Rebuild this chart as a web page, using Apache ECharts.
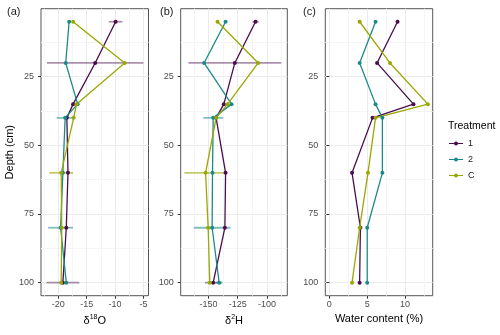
<!DOCTYPE html>
<html>
<head>
<meta charset="utf-8">
<script src="https://cdn.jsdelivr.net/npm/echarts@6/dist/echarts.min.js"></script>
<style>html,body{margin:0;padding:0;background:#fff}#c{width:500px;height:335px}</style>
</head>
<body>
<div id="c"></div>
<script>
// ---- data ----
const depth = [5, 20, 35, 40, 60, 80, 100];
const treatments = ['1', '2', 'C'];
// delta 18O
const o18_t1 = [-9.9, -13.5, -17.4, -18.5, -18.3, -18.6, -19.2];
const o18_t2 = [-18.1, -18.7, -16.6, -18.8, -19.2, -19.6, -18.6];
const o18_tC = [-17.4, -8.3, -16.8, -17.3, -19.5, -19.4, -19.5];
const o18_sd_t1 = [1.2, 8.5, null, null, null, null, 2.9];
const o18_sd_t2 = [null, null, null, 1.5, null, 2.2, null];
const o18_sd_tC = [null, null, null, null, 2.1, null, null];
// delta 2H
const h2_t1 = [-109.8, -127.5, -136.9, -143.5, -135.4, -136.0, -146.0];
const h2_t2 = [-135.4, -153.8, -130.3, -146.0, -146.6, -146.9, -140.9];
const h2_tC = [-142.3, -107.5, -133.7, -143.5, -152.5, -150.3, -148.9];
const h2_sd_t1 = [2.6, 39.7, null, null, null, null, 7];
const h2_sd_t2 = [null, null, null, 8.5, null, 15.7, 3];
const h2_sd_tC = [null, null, null, null, 18.2, null, null];
// water content (%)
const w_t1 = [9.0, 6.3, 11.1, 5.7, 3.0, 4.1, 4.0];
const w_t2 = [6.1, 4.0, 6.1, 7.0, 7.0, 5.0, 5.0];
const w_tC = [4.0, 8.0, 13.0, 6.1, 5.1, 4.0, 3.0];
// ticks
const depthTicks = [25, 50, 75, 100];
const depthMinor = [12.5, 37.5, 62.5, 87.5];
const o18Ticks = [-20, -15, -10, -5];
const o18Minor = [-22.5, -17.5, -12.5, -7.5];
const h2Ticks = [-150, -125, -100];
const h2Minor = [-162.5, -137.5, -112.5, -87.5];
const wTicks = [0, 5, 10];
const wMinor = [2.5, 7.5, 12.5];

// ---- styling ----
const colors = ['#4a0c4e', '#1c8a8a', '#99a800'];
const errColors = ['rgba(74,12,78,0.45)', 'rgba(28,138,138,0.55)', 'rgba(153,168,0,0.6)'];
const FONT = 'Liberation Sans, Arial, sans-serif';
const legendIcon = 'path://M0,4.4 L14,4.4 L14,5.6 L0,5.6 Z M9,5 A2,2 0 1,1 5,5 A2,2 0 1,1 9,5 Z';

const panels = [
  {left: 41, width: 107.5, min: -23.06, max: -4.1, ticks: o18Ticks, minor: o18Minor,
   vals: [o18_t1, o18_t2, o18_tC], sd: [o18_sd_t1, o18_sd_t2, o18_sd_tC],
   name: '{n|δ}{s|18}{n|O}'},
  {left: 180.7, width: 106.6, min: -173.8, max: -82.6, ticks: h2Ticks, minor: h2Minor,
   vals: [h2_t1, h2_t2, h2_tC], sd: [h2_sd_t1, h2_sd_t2, h2_sd_tC],
   name: '{n|δ}{s|2}{n|H}'},
  {left: 325.3, width: 107.4, min: -0.53, max: 13.64, ticks: wTicks, minor: wMinor,
   vals: [w_t1, w_t2, w_tC], sd: [null, null, null],
   name: '{n|Water content (%)}'}
];

const grids = [], xAxes = [], yAxes = [], series = [];
panels.forEach((p, i) => {
  grids.push({left: p.left, top: 8.7, width: p.width, height: 287, show: true,
    borderColor: '#555', borderWidth: 1, backgroundColor: '#fff', outerBoundsMode: 'none', containLabel: false});
  // major x
  xAxes.push({gridIndex: i, type: 'value', min: p.min, max: p.max, position: 'bottom',
    axisLine: {show: false},
    axisTick: {show: true, length: 3, lineStyle: {color: '#333'}, customValues: p.ticks},
    axisLabel: {customValues: p.ticks, color: '#4d4d4d', fontSize: 9, margin: 4, fontFamily: FONT},
    splitLine: {show: true, lineStyle: {color: '#ebebeb', width: 1}},
    name: p.name, nameLocation: 'middle', nameGap: 14,
    nameTextStyle: {rich: {
      n: {fontSize: 11, color: '#000', fontFamily: FONT},
      s: {fontSize: 7, color: '#000', fontFamily: FONT, padding: [0, 0, 7, 0]}
    }}
  });
  // minor x
  xAxes.push({gridIndex: i, type: 'value', min: p.min, max: p.max, position: 'bottom',
    axisLine: {show: false}, axisLabel: {show: false},
    axisTick: {show: false, customValues: p.minor},
    splitLine: {show: true, lineStyle: {color: '#f5f5f5', width: 1}}
  });
  // major y
  yAxes.push({gridIndex: i, type: 'value', inverse: true, min: 0.25, max: 104.75, position: 'left',
    axisLine: {show: false},
    axisTick: {show: true, length: 3, lineStyle: {color: '#333'}, customValues: depthTicks},
    axisLabel: {customValues: depthTicks, color: '#4d4d4d', fontSize: 9, margin: 7, fontFamily: FONT},
    splitLine: {show: true, lineStyle: {color: '#ebebeb', width: 1}},
    name: i === 0 ? 'Depth (cm)' : '', nameLocation: 'middle', nameGap: 18, nameRotate: 90,
    nameTextStyle: {fontSize: 11, color: '#000', fontFamily: FONT}
  });
  // minor y
  yAxes.push({gridIndex: i, type: 'value', inverse: true, min: 0.25, max: 104.75, position: 'left',
    axisLine: {show: false}, axisLabel: {show: false},
    axisTick: {show: false, customValues: depthMinor},
    splitLine: {show: true, lineStyle: {color: '#f5f5f5', width: 1}}
  });

  treatments.forEach((t, k) => {
    const sd = p.sd[k];
    if (sd) {
      const errData = [];
      depth.forEach((d, j) => {
        if (sd[j] != null) errData.push([p.vals[k][j] - sd[j], p.vals[k][j] + sd[j], d]);
      });
      series.push({
        type: 'custom', name: t + ' sd', xAxisIndex: i * 2, yAxisIndex: i * 2, z: 1,
        encode: {x: [0, 1], y: 2}, data: errData, silent: true,
        renderItem: function (params, api) {
          const a = api.coord([api.value(0), api.value(2)]);
          const b = api.coord([api.value(1), api.value(2)]);
          return {type: 'line', shape: {x1: a[0], y1: a[1], x2: b[0], y2: b[1]},
            style: {stroke: errColors[k], lineWidth: 1.8}};
        }
      });
    }
    series.push({
      type: 'line', name: t, xAxisIndex: i * 2, yAxisIndex: i * 2, z: 3,
      data: depth.map((d, j) => [p.vals[k][j], d]),
      color: colors[k], symbol: 'circle', symbolSize: 4, showSymbol: true,
      lineStyle: {width: 1.3, color: colors[k]}, itemStyle: {color: colors[k]},
      emphasis: {disabled: true}
    });
  });
});

const chart = echarts.init(document.getElementById('c'), null, {renderer: 'canvas'});
chart.setOption({
  animation: false,
  backgroundColor: '#fff',
  textStyle: {fontFamily: FONT},
  grid: grids, xAxis: xAxes, yAxis: yAxes, series: series,
  legend: {data: treatments.map(t => ({name: t, icon: legendIcon})),
    orient: 'vertical', left: 449, top: 139, padding: 0,
    itemWidth: 14, itemHeight: 10, itemGap: 7,
    textStyle: {fontSize: 9, color: '#1a1a1a', fontFamily: FONT}},
  graphic: [
    {type: 'text', left: 7, top: 6, style: {text: '(a)', fontSize: 11, fill: '#1a1a1a', fontFamily: FONT}},
    {type: 'text', left: 160, top: 6, style: {text: '(b)', fontSize: 11, fill: '#1a1a1a', fontFamily: FONT}},
    {type: 'text', left: 303, top: 6, style: {text: '(c)', fontSize: 11, fill: '#1a1a1a', fontFamily: FONT}},
    {type: 'text', left: 448, top: 121, style: {text: 'Treatment', fontSize: 10.5, fill: '#000', fontFamily: FONT}}
  ]
});
</script>
</body>
</html>
